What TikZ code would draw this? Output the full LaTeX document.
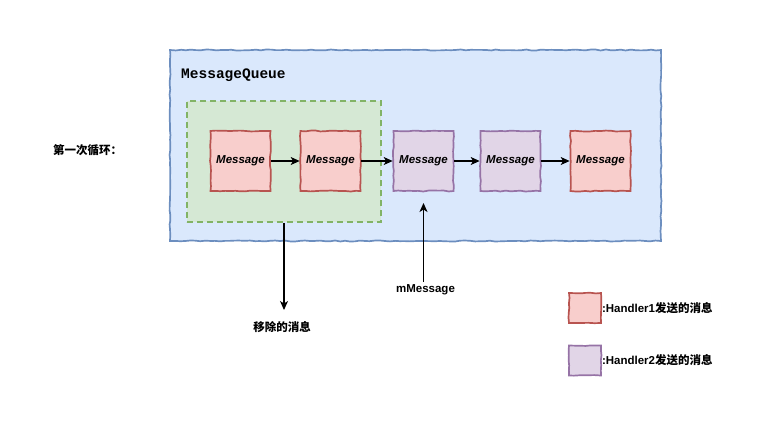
\documentclass[tikz,border=0pt]{standalone}
\usepackage{fontspec}
\setmainfont{Liberation Sans}
\setmonofont{Liberation Mono}
\newfontfamily\cjk{Noto Sans CJK SC}
\usetikzlibrary{arrows.meta,decorations.pathmorphing}
\definecolor{qfill}{HTML}{DAE8FC}
\definecolor{qline}{HTML}{6C8EBF}
\definecolor{gfill}{HTML}{D5E8D4}
\definecolor{gline}{HTML}{82B366}
\definecolor{rfill}{HTML}{F8CECC}
\definecolor{rline}{HTML}{B85450}
\definecolor{pfill}{HTML}{E1D5E7}
\definecolor{pline}{HTML}{9673A6}
\pgfmathsetseed{7}
\tikzset{
  sketchy/.style={decorate, decoration={random steps, segment length=5pt, amplitude=0.5pt}},
  msg/.style={draw, sketchy, line width=1.7pt, minimum width=60pt, minimum height=60pt, inner sep=0pt,
    font=\fontsize{11.5}{13}\selectfont\bfseries\itshape},
  redmsg/.style={msg, fill=rfill, draw=rline},
  purmsg/.style={msg, fill=pfill, draw=pline},
  conn/.style={line width=1.1pt, -{Stealth[length=9pt,width=8pt,inset=2.5pt]}},
  lbl/.style={font=\fontsize{11.5}{14}\selectfont\bfseries, inner sep=1pt},
  legbox/.style={draw, sketchy, line width=1.7pt, minimum width=32pt, minimum height=30pt, inner sep=0pt}
}
\begin{document}
\begin{tikzpicture}[x=1pt,y=-1pt]
\useasboundingbox (0,0) rectangle (781,426);
% outer queue
\node[draw=qline, fill=qfill, sketchy, line width=1.7pt, minimum width=491pt, minimum height=191pt, inner sep=0pt] (queue) at (415.5,145.5) {};
\node[anchor=west, font=\ttfamily\bfseries\fontsize{14.5}{16}\selectfont, inner sep=0pt] (title) at (181,75) {MessageQueue};
% removed group
\node[draw=gline, fill=gfill, dashed, dash pattern=on 6pt off 4pt, line width=1.7pt, minimum width=194pt, minimum height=121pt, inner sep=0pt] (green) at (284,161.5) {};
% messages
\node[redmsg] (m1) at (240.5,161) {Message};
\node[redmsg] (m2) at (330.5,161) {Message};
\node[purmsg] (m3) at (423.5,161) {Message};
\node[purmsg] (m4) at (510.5,161) {Message};
\node[redmsg] (m5) at (600.5,161) {Message};
\draw[conn] (m1) -- (m2);
\draw[conn] (m2) -- (m3);
\draw[conn] (m3) -- (m4);
\draw[conn] (m4) -- (m5);
% loop label
\node[lbl, anchor=west] (loop) at (52,150) {\cjk\bfseries 第一次循环：};
% removed arrow
\coordinate (rmend) at (284,310);
\node[lbl] (rm) at (282,327) {\cjk\bfseries 移除的消息};
\draw[conn] (green.south) -- (rmend);
% mMessage pointer
\node[lbl] (mm) at (425.5,290) {mMessage};
\coordinate (mmstart) at (423.5,282);
\coordinate (mmend) at (423.5,203);
\draw[conn] (mmstart) -- (mmend);
% legend
\node[legbox, fill=rfill, draw=rline] (leg1) at (585,308) {};
\node[lbl, anchor=west, inner sep=0pt] (leg1t) at (leg1.east) {:Handler1{\cjk\bfseries 发送的消息}};
\node[legbox, fill=pfill, draw=pline] (leg2) at (585,360.5) {};
\node[lbl, anchor=west, inner sep=0pt] (leg2t) at (leg2.east) {:Handler2{\cjk\bfseries 发送的消息}};
\end{tikzpicture}
\end{document}
